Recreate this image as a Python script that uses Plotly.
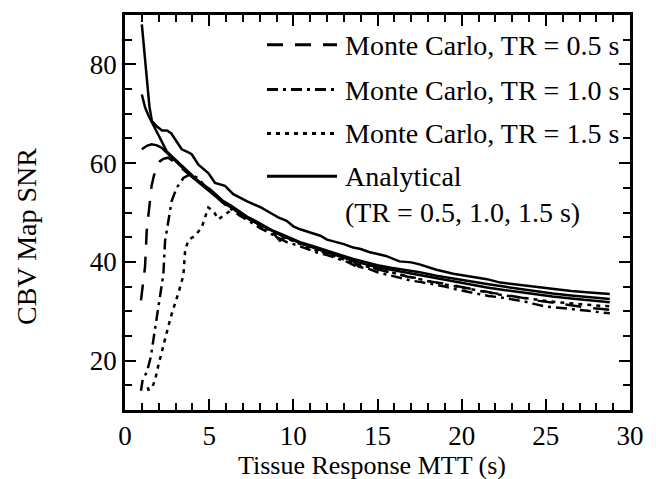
import plotly.graph_objects as go

# Analytical CBV map SNR curves (TR = 0.5, 1.0, 1.5 s)
mtt_analytical_a = [1.0, 1.15, 1.3, 1.45, 1.6, 1.9, 2.2, 2.5, 2.75, 3.07, 3.37, 3.7, 3.96, 4.36, 4.7, 4.95,
                    5.35, 5.65, 5.94, 6.43, 6.9, 7.23, 7.62, 8.1, 8.6, 9.1, 9.6, 10.0, 10.4, 11.0, 11.6, 12.0,
                    12.4, 13.0, 13.56, 14.0, 14.5, 15.0, 15.5, 16.3, 17.0, 17.5, 18.5, 19.5, 20.5, 21.5, 22.3,
                    23.5, 24.5, 25.4, 26.5, 27.6, 28.8]
snr_analytical_a = [88.1, 82.5, 76.5, 71.5, 68.5, 67.4, 66.6, 66.6, 66.0, 64.4, 62.8, 62.3, 61.8, 59.7, 58.8, 58.0,
                    56.0, 55.7, 55.4, 53.7, 52.8, 52.3, 51.7, 51.0, 50.0, 49.0, 48.3, 47.2, 46.6, 45.9, 45.3, 44.5,
                    44.2, 43.6, 42.9, 42.6, 42.0, 41.6, 41.2, 40.1, 39.9, 39.5, 38.4, 37.6, 37.0, 36.5, 35.8,
                    35.3, 34.8, 34.5, 34.1, 33.8, 33.5]

mtt_analytical_b = [1.0, 1.2, 1.4, 1.6, 1.9, 2.18, 2.48, 2.87, 3.2, 3.57, 3.9, 4.26, 4.65, 5.05, 5.45, 5.84,
                    6.25, 6.63, 7.0, 7.33, 7.8, 8.3, 8.8, 9.3, 9.8, 10.4, 11.0, 11.6, 12.2, 12.8, 13.56, 14.3,
                    15.0, 15.8, 16.6, 17.5, 18.5, 19.5, 20.5, 21.5, 22.5, 23.5, 24.5, 25.4, 26.5, 27.6, 28.8]
snr_analytical_b = [73.9, 71.2, 69.6, 68.3, 66.3, 64.5, 62.4, 61.1, 60.0, 58.7, 57.8, 56.7, 55.6, 54.7, 53.5, 52.3,
                    51.5, 50.6, 49.8, 49.0, 48.2, 47.2, 46.3, 45.6, 44.9, 44.0, 43.4, 42.7, 42.0, 41.4, 40.6, 39.9,
                    39.3, 38.8, 38.4, 37.9, 37.2, 36.6, 36.0, 35.5, 35.0, 34.5, 34.1, 33.6, 33.2, 32.8, 32.5]

mtt_analytical_c = [1.0, 1.3, 1.58, 1.9, 2.18, 2.57, 2.87, 3.2, 3.57, 3.9, 4.26, 4.65, 5.05, 5.45, 5.84, 6.25,
                    6.63, 7.0, 7.33, 7.8, 8.3, 8.8, 9.3, 9.8, 10.4, 11.0, 11.6, 12.2, 12.8, 13.56, 14.3, 15.0,
                    15.8, 16.6, 17.5, 18.5, 19.5, 20.5, 21.5, 22.5, 23.5, 24.5, 25.4, 26.5, 27.6, 28.8]
snr_analytical_c = [62.8, 63.5, 63.8, 63.6, 63.1, 61.8, 60.8, 59.7, 58.4, 57.5, 56.4, 55.3, 54.3, 53.1, 52.0, 51.1,
                    50.2, 49.4, 48.7, 47.9, 47.0, 46.1, 45.3, 44.6, 43.8, 43.1, 42.4, 41.7, 41.0, 40.2, 39.5, 38.9,
                    38.4, 37.9, 37.3, 36.6, 36.0, 35.4, 34.8, 34.3, 33.8, 33.4, 33.0, 32.6, 32.2, 31.8]

# Monte Carlo simulations
mtt_mc_05 = [0.95, 1.05, 1.19, 1.29, 1.38, 1.49, 1.58, 1.72, 1.88, 2.08, 2.3, 2.57, 2.9, 3.2, 3.6, 4.0, 4.5,
             5.0, 5.5, 6.0, 6.5, 7.0, 7.6, 8.2, 8.7, 9.2, 9.6, 10.0, 10.5, 11.0, 11.5, 11.9, 12.4, 13.0, 13.5,
             13.9, 14.4, 15.0, 15.6, 16.2, 16.8, 17.4, 18.0, 18.6, 19.2, 19.8, 20.4, 21.0, 21.6, 22.2, 22.8,
             23.4, 24.0, 24.6, 25.2, 25.8, 26.4, 27.0, 27.6, 28.2, 28.8]
snr_mc_05 = [32.2, 35.5, 39.0, 46.3, 49.0, 52.3, 55.4, 57.5, 58.7, 60.4, 60.9, 61.1, 60.3, 59.4, 58.3, 57.2, 55.8,
             54.6, 53.2, 51.8, 50.7, 49.6, 48.3, 47.0, 46.2, 44.3, 45.0, 44.6, 43.6, 43.2, 42.2, 41.9, 41.7, 40.9,
             40.3, 39.0, 39.3, 38.5, 38.0, 37.5, 37.0, 36.7, 36.1, 35.8, 35.4, 35.0, 34.6, 34.2, 33.8, 33.5, 33.2,
             32.9, 32.5, 32.1, 31.8, 31.5, 31.2, 30.9, 30.7, 30.5, 30.3]

mtt_mc_10 = [0.95, 1.0, 1.05, 1.15, 1.29, 1.53, 1.68, 1.82, 1.98, 2.18, 2.28, 2.38, 2.48, 2.57, 2.67, 2.77,
             3.07, 3.47, 3.9, 4.3, 4.8, 5.3, 5.8, 6.3, 6.8, 7.4, 8.0, 8.6, 9.2, 9.6, 10.2, 10.8, 11.4, 12.0,
             12.6, 13.2, 13.8, 14.4, 15.0, 15.7, 16.4, 17.0, 17.6, 18.3, 19.0, 19.7, 20.4, 21.0, 21.6, 22.3,
             23.0, 23.7, 24.3, 24.9, 25.5, 26.2, 26.9, 27.5, 28.2, 28.8]
snr_mc_10 = [13.9, 15.0, 16.2, 16.8, 17.6, 20.7, 24.0, 27.1, 31.1, 35.2, 37.5, 44.2, 46.3, 49.0, 51.0, 52.3,
             55.0, 57.0, 57.8, 57.0, 55.2, 53.6, 52.0, 50.7, 49.4, 48.2, 46.9, 45.8, 44.8, 44.0, 43.4, 42.6,
             41.9, 41.4, 40.7, 40.0, 39.0, 38.7, 37.9, 37.3, 36.8, 36.2, 35.9, 35.5, 35.0, 34.4, 33.9, 33.6,
             33.1, 32.8, 32.4, 32.0, 31.5, 31.0, 30.8, 30.6, 30.3, 30.1, 29.8, 29.6]

mtt_mc_15 = [1.35, 1.39, 1.58, 1.78, 1.98, 2.28, 2.48, 2.77, 2.97, 3.2, 3.47, 3.57, 3.76, 4.16, 4.56, 4.75,
             4.95, 5.25, 5.55, 5.94, 6.24, 6.83, 7.2, 7.8, 8.4, 9.0, 9.6, 10.2, 10.8, 11.4, 12.0, 12.6, 13.2,
             13.8, 14.4, 15.0, 15.6, 16.2, 16.8, 17.4, 18.0, 18.6, 19.2, 19.8, 20.4, 21.0, 21.6, 22.2, 22.8,
             23.4, 24.0, 24.6, 25.2, 25.8, 26.4, 27.0, 27.6, 28.2, 28.8]
snr_mc_15 = [14.6, 14.1, 14.3, 16.0, 19.0, 22.7, 25.7, 29.4, 31.5, 34.0, 37.3, 42.2, 44.4, 45.3, 47.0, 49.0,
             51.0, 50.3, 48.6, 49.6, 50.3, 50.3, 49.0, 47.8, 46.7, 45.6, 44.8, 43.9, 43.0, 42.3, 41.6, 40.9,
             40.2, 39.6, 39.0, 38.5, 38.0, 37.5, 37.0, 36.6, 36.1, 35.7, 35.3, 34.9, 34.5, 34.1, 33.8, 33.4,
             33.1, 32.8, 32.5, 32.2, 32.0, 31.8, 31.6, 31.4, 31.2, 31.1, 31.0]

legend_labels = ["Monte Carlo, TR = 0.5 s", "Monte Carlo, TR = 1.0 s", "Monte Carlo, TR = 1.5 s",
                 "Analytical<br>(TR = 0.5, 1.0, 1.5 s)"]
x_title = "Tissue Response MTT (s)"
y_title = "CBV Map SNR"

DASH_05 = "16px,12px"
DASH_10 = "11px,5px,3px,5px"
DASH_15 = "4px,5px"
FONT = "Liberation Serif"
LW = 2.5

fig = go.Figure()

for xs, ys in [(mtt_analytical_a, snr_analytical_a), (mtt_analytical_b, snr_analytical_b),
               (mtt_analytical_c, snr_analytical_c)]:
    fig.add_trace(go.Scatter(x=xs, y=ys, mode="lines",
                             line=dict(color="black", width=LW), showlegend=False))

for xs, ys, dash in [(mtt_mc_05, snr_mc_05, DASH_05), (mtt_mc_10, snr_mc_10, DASH_10),
                     (mtt_mc_15, snr_mc_15, DASH_15)]:
    fig.add_trace(go.Scatter(x=xs, y=ys, mode="lines",
                             line=dict(color="black", width=LW, dash=dash), showlegend=False))

# Plot-area edges in pixels, and helpers converting pixels to paper coordinates
L, R, T, B = 125, 630, 13, 410
def px_x(p):
    return (p - L) / (R - L)
def px_y(p):
    return (B - p) / (B - T)

# Hand-built key: line samples plus text
key_rows = [43, 88, 132, 175]
key_dashes = [DASH_05, DASH_10, DASH_15, "solid"]
for row, dash, label in zip(key_rows, key_dashes, legend_labels):
    fig.add_shape(type="line", xref="paper", yref="paper",
                  x0=px_x(267), x1=px_x(337), y0=px_y(row), y1=px_y(row),
                  line=dict(color="black", width=3, dash=dash))
    fig.add_annotation(xref="paper", yref="paper", x=px_x(343), y=px_y(row - 17),
                       xanchor="left", yanchor="top", text=label, showarrow=False, align="left",
                       font=dict(family=FONT, size=28, color="black"))

# Axis titles
fig.add_annotation(xref="paper", yref="paper", x=px_x(372), y=px_y(466),
                   xanchor="center", yanchor="middle", text=x_title, showarrow=False,
                   font=dict(family=FONT, size=26, color="black"))
fig.add_annotation(xref="paper", yref="paper", x=px_x(27), y=px_y(236),
                   xanchor="center", yanchor="middle", text=y_title, showarrow=False, textangle=-90,
                   font=dict(family=FONT, size=28, color="black"))

axis_common = dict(showline=True, linecolor="black", linewidth=2.5, mirror="ticks",
                   ticks="inside", tickcolor="black", tickwidth=2, ticklen=11,
                   showgrid=False, zeroline=False,
                   tickfont=dict(family=FONT, size=27, color="black"))

fig.update_xaxes(range=[0, 30], dtick=5, tick0=0,
                 minor=dict(dtick=1, ticks="inside", ticklen=7, tickwidth=2, tickcolor="black"),
                 **axis_common)
fig.update_yaxes(range=[10, 90], dtick=20, tick0=0,
                 minor=dict(dtick=5, ticks="inside", ticklen=7, tickwidth=2, tickcolor="black"),
                 **axis_common)

fig.update_layout(width=656, height=479, margin=dict(l=L, r=656 - R, t=T, b=479 - B),
                  plot_bgcolor="white", paper_bgcolor="white", showlegend=False)

fig.write_html("out.html")
